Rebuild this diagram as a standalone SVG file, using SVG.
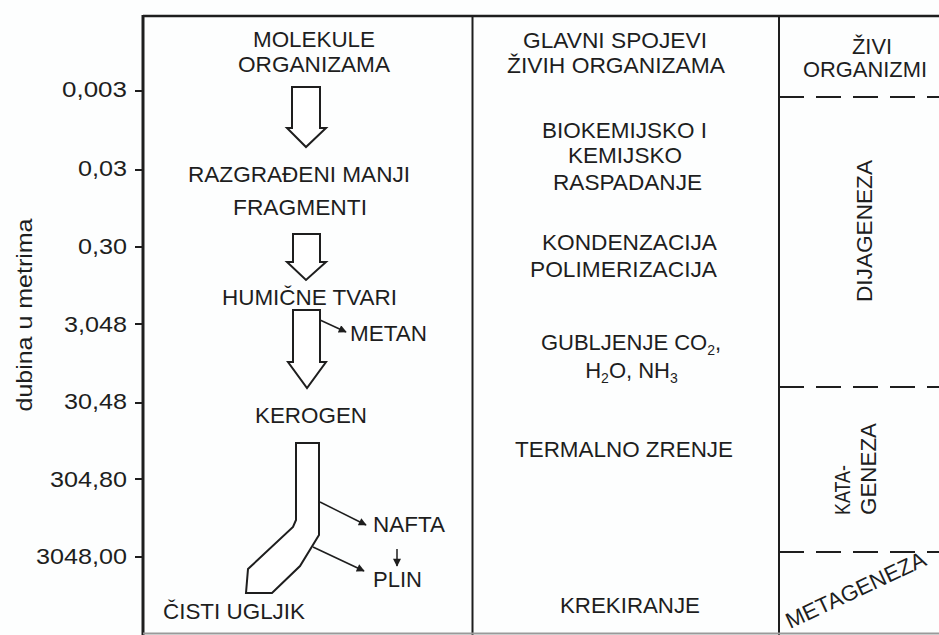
<svg xmlns="http://www.w3.org/2000/svg" width="939" height="635" viewBox="0 0 939 635">
<defs>
<style>
.t{font-family:"Liberation Sans",Arial,sans-serif;font-size:22px;fill:#1e1e1e}
.c{text-anchor:middle}
.n{text-anchor:end}
.frame{stroke:#1e1e1e;fill:none}
.blk{fill:#fff;stroke:#1e1e1e;stroke-width:2;stroke-linejoin:miter}
.ln{stroke:#1e1e1e;stroke-width:1.5;fill:none}
.dash{stroke:#1e1e1e;stroke-width:2;stroke-dasharray:25 12;fill:none}
</style>
<marker id="ah" viewBox="0 0 10 10" refX="9" refY="5" markerUnits="userSpaceOnUse" markerWidth="10" markerHeight="8" orient="auto">
<path d="M0,0 L10,5 L0,10 z" fill="#1e1e1e"/>
</marker>
</defs>
<rect width="939" height="635" fill="#fdfefe"/>

<g id="frame">
<line class="frame" x1="143" y1="16" x2="939" y2="16" stroke-width="2.5"/>
<line class="frame" x1="143" y1="15" x2="143" y2="635" stroke-width="3"/>
<line class="frame" x1="472.5" y1="16" x2="472.5" y2="635" stroke-width="2"/>
<line class="frame" x1="779" y1="16" x2="779" y2="635" stroke-width="2"/>
<line x1="143" y1="633.5" x2="939" y2="633.5" stroke="#9a9a9a" stroke-width="2"/>
<line class="dash" x1="779" y1="97" x2="939" y2="97"/>
<line class="dash" x1="779" y1="387" x2="939" y2="387"/>
<line class="dash" x1="779" y1="552" x2="939" y2="552"/>
</g>

<g id="axis">
<g class="frame" stroke-width="2">
<line x1="135" y1="91" x2="143" y2="91"/>
<line x1="135" y1="170" x2="143" y2="170"/>
<line x1="135" y1="247" x2="143" y2="247"/>
<line x1="135" y1="324" x2="143" y2="324"/>
<line x1="135" y1="403" x2="143" y2="403"/>
<line x1="135" y1="479" x2="143" y2="479"/>
<line x1="135" y1="557" x2="143" y2="557"/>
</g>
<text class="t n" x="127" y="97" textLength="65" lengthAdjust="spacingAndGlyphs">0,003</text>
<text class="t n" x="127" y="176" textLength="49" lengthAdjust="spacingAndGlyphs">0,03</text>
<text class="t n" x="127" y="254" textLength="49" lengthAdjust="spacingAndGlyphs">0,30</text>
<text class="t n" x="127" y="332" textLength="63" lengthAdjust="spacingAndGlyphs">3,048</text>
<text class="t n" x="127" y="409" textLength="63" lengthAdjust="spacingAndGlyphs">30,48</text>
<text class="t n" x="127" y="487" textLength="77" lengthAdjust="spacingAndGlyphs">304,80</text>
<text class="t n" x="127" y="564" textLength="91" lengthAdjust="spacingAndGlyphs">3048,00</text>
<text class="t c" transform="translate(32,315) rotate(-90)" font-size="23" textLength="193" lengthAdjust="spacingAndGlyphs">dubina u metrima</text>
</g>

<g id="n-molekule">
<text class="t c" x="314" y="47" textLength="122" lengthAdjust="spacingAndGlyphs">MOLEKULE</text>
<text class="t c" x="314" y="72" textLength="152" lengthAdjust="spacingAndGlyphs">ORGANIZAMA</text>
</g>
<g id="n-razgradeni">
<text class="t c" x="299" y="182" textLength="222" lengthAdjust="spacingAndGlyphs">RAZGRAĐENI MANJI</text>
<text class="t c" x="300" y="215" textLength="134" lengthAdjust="spacingAndGlyphs">FRAGMENTI</text>
</g>
<g id="n-humicne">
<text class="t c" x="309.5" y="305" textLength="175" lengthAdjust="spacingAndGlyphs">HUMIČNE TVARI</text>
</g>
<g id="n-metan">
<text class="t" x="350" y="341" textLength="77" lengthAdjust="spacingAndGlyphs">METAN</text>
</g>
<g id="n-kerogen">
<text class="t c" x="311" y="423" textLength="112" lengthAdjust="spacingAndGlyphs">KEROGEN</text>
</g>
<g id="n-nafta">
<text class="t" x="373" y="532" textLength="72" lengthAdjust="spacingAndGlyphs">NAFTA</text>
</g>
<g id="n-plin">
<text class="t" x="373" y="587" textLength="49" lengthAdjust="spacingAndGlyphs">PLIN</text>
</g>
<g id="n-cisti">
<text class="t" x="163" y="619" textLength="142" lengthAdjust="spacingAndGlyphs">ČISTI UGLJIK</text>
</g>

<g id="connectors">
<polygon class="blk" points="292,87 320,87 320,128 326,128 306,147 287,128 292,128"/>
<polygon class="blk" points="293,234 320,234 320,262 326,262 306,280 287,262 293,262"/>
<polygon class="blk" points="293,310 320,310 320,362 326,362 307,388 288,362 293,362"/>
<polygon class="blk" points="296,443 319,443 319,535 300,566 272,593 246,593 248,569 293,527 296,520"/>
<line class="ln" x1="320" y1="320" x2="346" y2="332" marker-end="url(#ah)"/>
<line class="ln" x1="320" y1="502" x2="366" y2="525" marker-end="url(#ah)"/>
<line class="ln" x1="313" y1="547" x2="364" y2="571" marker-end="url(#ah)"/>
<line class="ln" x1="397" y1="549" x2="397" y2="566" marker-end="url(#ah)"/>
</g>

<g id="col-procesi">
<text class="t c" x="615" y="48" textLength="184" lengthAdjust="spacingAndGlyphs">GLAVNI SPOJEVI</text>
<text class="t c" x="616" y="73" textLength="218" lengthAdjust="spacingAndGlyphs">ŽIVIH ORGANIZAMA</text>
<text class="t c" x="624.5" y="138" textLength="165" lengthAdjust="spacingAndGlyphs">BIOKEMIJSKO I</text>
<text class="t c" x="625" y="163" textLength="114" lengthAdjust="spacingAndGlyphs">KEMIJSKO</text>
<text class="t c" x="627.5" y="190" textLength="149" lengthAdjust="spacingAndGlyphs">RASPADANJE</text>
<text class="t c" x="629.5" y="250" textLength="175" lengthAdjust="spacingAndGlyphs">KONDENZACIJA</text>
<text class="t c" x="623.5" y="277" textLength="187" lengthAdjust="spacingAndGlyphs">POLIMERIZACIJA</text>
<text class="t c" x="631" y="350">GUBLJENJE CO<tspan font-size="14" dy="5">2</tspan><tspan dy="-5">,</tspan></text>
<text class="t c" x="631.5" y="378">H<tspan font-size="14" dy="5">2</tspan><tspan dy="-5">O, NH</tspan><tspan font-size="14" dy="5">3</tspan></text>
<text class="t c" x="624" y="457" textLength="218" lengthAdjust="spacingAndGlyphs">TERMALNO ZRENJE</text>
<text class="t c" x="630" y="613" textLength="140" lengthAdjust="spacingAndGlyphs">KREKIRANJE</text>
</g>

<g id="col-faze">
<text class="t c" x="872" y="54" textLength="40" lengthAdjust="spacingAndGlyphs">ŽIVI</text>
<text class="t c" x="865" y="77" textLength="124" lengthAdjust="spacingAndGlyphs">ORGANIZMI</text>
<text class="t c" transform="translate(872,231) rotate(-90)" textLength="142" lengthAdjust="spacingAndGlyphs">DIJAGENEZA</text>
<text class="t" transform="translate(850,515) rotate(-90)" textLength="50" lengthAdjust="spacingAndGlyphs">KATA-</text>
<text class="t" transform="translate(876,515) rotate(-90)" textLength="92" lengthAdjust="spacingAndGlyphs">GENEZA</text>
<text class="t" transform="translate(790,629) rotate(-25)" textLength="152" lengthAdjust="spacingAndGlyphs">METAGENEZA</text>
</g>
</svg>
